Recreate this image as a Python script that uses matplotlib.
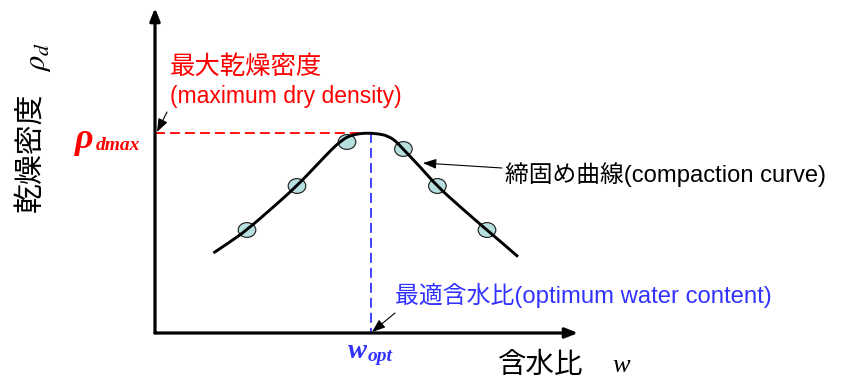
import matplotlib
matplotlib.use("Agg")
import matplotlib.pyplot as plt
from matplotlib.patches import Ellipse, PathPatch
from matplotlib.path import Path

# ---- data (water content w, dry density rho_d; schematic units) ----
curve_w = [2.92, 3.75, 4.59, 5.92, 7.09, 8.09, 8.90, 9.25, 9.59, 9.90, 10.25,
           10.75, 11.40, 11.65, 11.90, 12.15, 12.40, 13.25, 14.10, 15.25,
           16.59, 17.25, 18.15]
curve_rho = [0.80, 0.91, 1.03, 1.26, 1.47, 1.68, 1.85, 1.91, 1.96, 1.98, 1.995,
             2.00, 1.985, 1.965, 1.94, 1.895, 1.84, 1.663, 1.47, 1.263,
             1.03, 0.92, 0.763]
test_w = [4.60, 7.10, 9.60, 12.42, 14.12, 16.60]
test_rho = [1.03, 1.47, 1.91, 1.84, 1.47, 1.03]
rho_dmax = 2.00
w_opt = 10.80
w_axis_max = 21.15
rho_axis_max = 3.25

plt.rcParams['font.family'] = ['Liberation Sans', 'Noto Sans CJK JP', 'DejaVu Sans']
plt.rcParams['mathtext.fontset'] = 'stix'

RED = '#ff0000'
BLUE = '#3333ff'

fig = plt.figure(figsize=(8.49, 3.79), dpi=100)
ax = fig.add_axes([0, 0, 1, 1])
ax.set_xlim(-7.75, 34.7)
ax.set_ylim(-0.46, 3.33)
ax.axis('off')

# axes arrows
axis_arrow = dict(arrowstyle='-|>,head_length=0.75,head_width=0.3', lw=2.3,
                  color='black', shrinkA=0, shrinkB=0, mutation_scale=10)
ax.annotate('', xy=(w_axis_max, 0), xytext=(0, 0), arrowprops=axis_arrow)
ax.annotate('', xy=(0, rho_axis_max), xytext=(0, 0), arrowprops=axis_arrow)

# reference dashed lines
ax.plot([0, 10.4], [rho_dmax, rho_dmax], color=RED, lw=1.3, dashes=(5.5, 2.8), zorder=2)
ax.plot([w_opt, w_opt], [rho_dmax, 0], color=BLUE, lw=1.3, dashes=(5.5, 2.8), zorder=2)

# test points
for w, r in zip(test_w, test_rho):
    ax.add_patch(Ellipse((w, r), width=0.88, height=0.148, facecolor='#b8dfe0',
                         edgecolor='#222222', lw=0.85, zorder=3))

# compaction curve: smooth quadratic path using read points as control points
pts = list(zip(curve_w, curve_rho))
verts = [pts[0]]
codes = [Path.MOVETO]
for i in range(1, len(pts) - 1):
    nxt = pts[i + 1] if i + 1 == len(pts) - 1 else (
        (pts[i][0] + pts[i + 1][0]) / 2, (pts[i][1] + pts[i + 1][1]) / 2)
    verts += [pts[i], nxt]
    codes += [Path.CURVE3, Path.CURVE3]
ax.add_patch(PathPatch(Path(verts, codes), facecolor='none', edgecolor='black',
                       lw=2.1, capstyle='butt', joinstyle='round', zorder=4))

thin_arrow = dict(arrowstyle='-|>,head_length=0.8,head_width=0.3', lw=0.8,
                  color='black', shrinkA=0, shrinkB=0, mutation_scale=10)

# max dry density
ax.text(0.75, 2.66, '最大乾燥密度', color=RED, fontsize=18.3, ha='left', va='center')
ax.text(0.75, 2.36, '(maximum dry density)', color=RED, fontsize=16.5, ha='left', va='center')
ax.annotate('', xy=(0.1, 2.01), xytext=(0.6, 2.21), arrowprops=thin_arrow)
ax.text(-4.0, 1.85, 'ρ', color=RED, fontsize=26, family='Liberation Serif',
        style='italic', weight='bold', ha='left', va='baseline')
ax.text(-2.95, 1.83, 'dmax', color=RED, fontsize=14, family='Liberation Serif',
        style='italic', weight='bold', ha='left', va='baseline')

# compaction curve label
ax.text(17.5, 1.58, '締固め曲線(compaction curve)', color='black', fontsize=17.1,
        ha='left', va='center')
ax.annotate('', xy=(13.4, 1.70), xytext=(17.35, 1.65), arrowprops=thin_arrow)

# optimum water content
ax.text(12.0, 0.38, '最適含水比(optimum water content)', color=BLUE, fontsize=17.2,
        ha='left', va='center')
ax.annotate('', xy=(10.85, 0.01), xytext=(12.0, 0.20), arrowprops=thin_arrow)
ax.text(9.65, -0.25, 'w', color=BLUE, fontsize=20.5, family='Liberation Serif',
        style='italic', weight='bold', ha='left', va='baseline')
ax.text(10.65, -0.28, 'opt', color=BLUE, fontsize=14, family='Liberation Serif',
        style='italic', weight='bold', ha='left', va='baseline')

# axis labels
ax.text(17.15, -0.33, '含水比', color='black', fontsize=20.5, ha='left', va='center')
ax.text(22.85, -0.39, 'w', color='black', fontsize=19, family='Liberation Serif',
        style='italic', ha='left', va='baseline')
ax.text(-6.2, 1.81, '乾燥密度', color='black', fontsize=21.5, rotation=90,
        ha='center', va='center')
ax.text(-5.85, 2.76, r'$\rho_d$', color='black', fontsize=22, rotation=90,
        ha='center', va='center')

fig.savefig('out.png', dpi=100)
